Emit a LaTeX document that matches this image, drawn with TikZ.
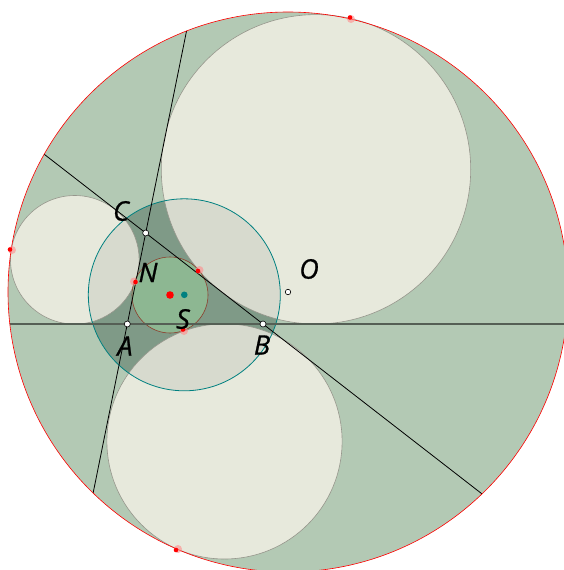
\documentclass[tikz,border=0pt]{standalone}
\usepackage{fontspec}
\setmainfont{Open Sans}
\newfontfamily\lblfont[FakeBold=0.8]{Open Sans}
\usetikzlibrary{calc}
\definecolor{bggreen}{RGB}{179,201,180}
\definecolor{darkgreen}{RGB}{127,154,135}
\definecolor{creamc}{RGB}{255,248,238}
\definecolor{midgreen}{RGB}{141,183,146}
\definecolor{brownc}{RGB}{140,62,45}
\definecolor{tealc}{RGB}{0,128,128}
\definecolor{edgegray}{RGB}{150,150,140}
\definecolor{axisgray}{RGB}{85,95,85}
\definecolor{pinkc}{RGB}{255,140,140}
\tikzset{
  lightcirc/.style={fill=creamc, fill opacity=0.69, draw=edgegray, draw opacity=1, line width=0.6pt},
  wpt/.style={circle, draw=black, fill=white, line width=0.6pt, inner sep=0pt, minimum size=6pt},
  lbl/.style={font=\lblfont\fontsize{27}{30}\selectfont\itshape, inner sep=0pt},
  thinline/.style={black, line width=0.8pt},
}
\newcommand{\tpt}[2]{%
  \fill[pinkc, opacity=0.6] #1 circle (4pt);
  \fill[red] #2 circle (2.3pt);}
\begin{document}
\begin{tikzpicture}[x=1pt,y=-1pt]
\useasboundingbox (0,0) rectangle (564,570);
\coordinate (O) at (288,292);
\coordinate (A) at (127.3,324);
\coordinate (B) at (263,324);
\coordinate (C) at (145.7,233);
\coordinate (U) at (316,169.3);
\coordinate (L) at (74.8,259.8);
\coordinate (D) at (224.5,441.4);
\coordinate (K) at (184.3,294.8);
\coordinate (I) at (170,295);
% big circle
\fill[bggreen] (O) circle (280pt);
% cyan circle fill
\fill[darkgreen] (K) circle (96pt);
% light circles
\path[lightcirc] (U) circle (154.7pt);
\path[lightcirc] (L) circle (64.3pt);
\path[lightcirc] (D) circle (117.6pt);
% small circle
\filldraw[fill=midgreen, draw=brownc, line width=0.6pt] (I) circle (38pt);
% cyan outline
\draw[tealc, line width=0.8pt] (K) circle (96pt);
% lines
\begin{scope}
\clip (O) circle (280pt);
\draw[axisgray, line width=1.6pt] ($(A)!-3!(B)$) -- ($(B)!-3!(A)$);
\draw[thinline] ($(A)!-3!(C)$) -- ($(C)!-3!(A)$);
\draw[thinline] ($(B)!-3!(C)$) -- ($(C)!-3!(B)$);
\end{scope}
\draw[red, line width=0.6pt] (O) circle (280pt);
% tangency points
\tpt{(351,19)}{(350,17.5)}
\tpt{(12,250)}{(10,249.5)}
\tpt{(178,549)}{(176,550)}
\tpt{(199.5,270)}{(198,271)}
\tpt{(134,281.5)}{(135.5,282)}
\tpt{(184,331)}{(183,329.5)}
% centres
\fill[red] (I) circle (3.8pt);
\fill[tealc] (K) circle (3.3pt);
% points
\node[wpt] (pA) at (A) {};
\node[wpt] (pB) at (B) {};
\node[wpt] (pC) at (C) {};
\node[wpt, minimum size=5.5pt] (pO) at (O) {};
% labels
\node[lbl] (lC) at (121,211) {C};
\node[lbl] (lN) at (148,272.5) {N};
\node[lbl] (lO) at (309,269) {O};
\node[lbl] (lS) at (183,319) {S};
\node[lbl] (lA) at (125,346) {A};
\node[lbl] (lB) at (262,345) {B};
\end{tikzpicture}
\end{document}
